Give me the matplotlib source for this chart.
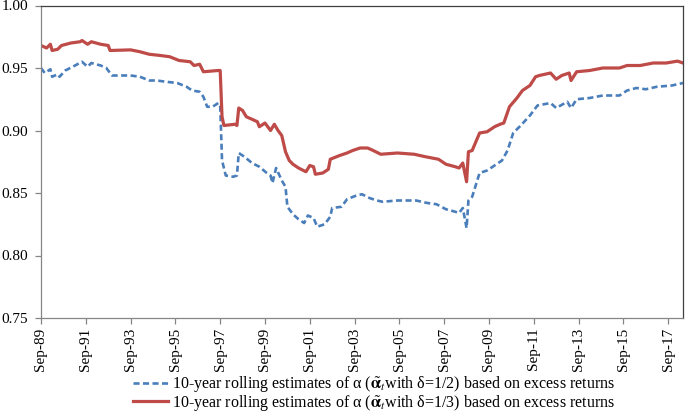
import matplotlib
matplotlib.use("Agg")
import matplotlib.pyplot as plt
import pandas as pd

plt.rcParams['font.family'] = ['Liberation Serif', 'DejaVu Serif']
plt.rcParams['mathtext.fontset'] = 'stix'

red_dates = ["1989-09", "1989-12", "1990-02", "1990-03", "1990-06", "1990-08", "1991-01", "1991-06",
             "1991-07", "1991-10", "1991-12", "1992-05", "1992-09", "1992-10", "1993-09", "1994-02",
             "1994-07", "1995-01", "1995-06", "1995-11", "1996-05", "1996-07", "1996-10", "1996-12",
             "1997-08", "1997-09", "1997-10", "1997-11", "1998-05", "1998-06", "1998-07", "1998-09",
             "1998-11", "1999-02", "1999-05", "1999-06", "1999-09", "1999-11", "1999-12", "2000-02",
             "2000-04", "2000-06", "2000-08", "2000-10", "2000-12", "2001-03", "2001-07", "2001-09",
             "2001-11", "2001-12", "2002-04", "2002-07", "2002-08", "2003-01", "2003-05", "2003-08",
             "2003-12", "2004-04", "2004-07", "2004-11", "2005-08", "2006-05", "2006-11", "2007-06",
             "2007-10", "2008-03", "2008-05", "2008-07", "2008-09", "2008-10", "2008-12", "2009-04",
             "2009-08", "2009-12", "2010-03", "2010-05", "2010-08", "2010-12", "2011-03", "2011-07",
             "2011-10", "2011-12", "2012-06", "2012-09", "2012-12", "2013-04", "2013-05", "2013-08",
             "2014-03", "2014-10", "2015-07", "2015-11", "2016-06", "2017-01", "2017-08", "2018-02",
             "2018-05"]
red_values = [0.968, 0.966, 0.969, 0.964, 0.965, 0.968, 0.970, 0.971,
              0.972, 0.969, 0.971, 0.969, 0.968, 0.964, 0.9645, 0.963,
              0.961, 0.960, 0.959, 0.956, 0.955, 0.952, 0.953, 0.947,
              0.948, 0.948, 0.911, 0.904, 0.905, 0.904, 0.918, 0.916,
              0.911, 0.909, 0.907, 0.903, 0.906, 0.902, 0.900, 0.905,
              0.900, 0.896, 0.883, 0.876, 0.873, 0.870, 0.867, 0.872,
              0.871, 0.865, 0.866, 0.869, 0.877, 0.880, 0.882, 0.884,
              0.886, 0.886, 0.884, 0.881, 0.882, 0.881, 0.879, 0.877,
              0.873, 0.871, 0.870, 0.874, 0.859, 0.883, 0.884, 0.898,
              0.899, 0.903, 0.905, 0.906, 0.919, 0.926, 0.932, 0.936,
              0.943, 0.944, 0.946, 0.941, 0.944, 0.946, 0.940, 0.947,
              0.948, 0.950, 0.950, 0.952, 0.952, 0.954, 0.954, 0.9555,
              0.954]

blue_dates = ["1989-09", "1989-11", "1990-02", "1990-03", "1990-06", "1990-07", "1990-10", "1991-02",
              "1991-07", "1991-10", "1991-12", "1992-05", "1992-08", "1992-11", "1993-03", "1993-09",
              "1994-02", "1994-07", "1994-11", "1995-04", "1995-10", "1996-03", "1996-06", "1996-10",
              "1996-12", "1997-02", "1997-05", "1997-08", "1997-09", "1997-10", "1997-12", "1998-04",
              "1998-06", "1998-07", "1998-10", "1999-02", "1999-06", "1999-10", "1999-12", "2000-01",
              "2000-03", "2000-06", "2000-08", "2000-09", "2000-12", "2001-03", "2001-06", "2001-08",
              "2001-11", "2002-01", "2002-05", "2002-08", "2002-09", "2003-02", "2003-05", "2003-10",
              "2004-01", "2004-05", "2004-09", "2004-12", "2005-08", "2006-01", "2006-06", "2006-12",
              "2007-05", "2007-10", "2008-03", "2008-05", "2008-07", "2008-09", "2008-10", "2008-12",
              "2009-04", "2009-08", "2009-12", "2010-04", "2010-07", "2010-10", "2011-02", "2011-07",
              "2011-11", "2012-06", "2012-09", "2013-03", "2013-05", "2013-08", "2014-03", "2014-10",
              "2015-07", "2015-11", "2016-04", "2016-09", "2017-03", "2017-11", "2018-05"]
blue_values = [0.950, 0.946, 0.949, 0.943, 0.945, 0.943, 0.948, 0.951,
               0.955, 0.951, 0.954, 0.952, 0.950, 0.944, 0.944, 0.944,
               0.943, 0.940, 0.940, 0.939, 0.938, 0.935, 0.932, 0.931,
               0.927, 0.919, 0.919, 0.922, 0.920, 0.876, 0.864, 0.863,
               0.864, 0.882, 0.879, 0.874, 0.871, 0.866, 0.864, 0.858,
               0.870, 0.860, 0.855, 0.839, 0.833, 0.829, 0.826, 0.832,
               0.830, 0.823, 0.825, 0.831, 0.838, 0.839, 0.845, 0.848,
               0.849, 0.846, 0.844, 0.843, 0.844, 0.844, 0.844, 0.842,
               0.841, 0.837, 0.835, 0.834, 0.838, 0.822, 0.844, 0.847,
               0.866, 0.868, 0.872, 0.876, 0.884, 0.898, 0.904, 0.912,
               0.920, 0.922, 0.918, 0.923, 0.918, 0.925, 0.926, 0.928,
               0.928, 0.932, 0.934, 0.933, 0.935, 0.936, 0.938]

y_ticks = [0.75, 0.80, 0.85, 0.90, 0.95, 1.00]
x_tick_years = list(range(1989, 2018, 2))

label_blue = r"10-year rolling estimates of α ($\tilde{\mathbf{\alpha}}_t$with δ=1/2) based on excess returns"
label_red = r"10-year rolling estimates of α ($\tilde{\mathbf{\alpha}}_t$with δ=1/3) based on excess returns"

fig = plt.figure(figsize=(6.85, 4.13), dpi=100)
ax = fig.add_axes([41/685, 1 - 318/413, (683 - 41)/685, (318 - 5.5)/413])

xb = pd.to_datetime(blue_dates)
xr = pd.to_datetime(red_dates)
lb, = ax.plot(xb, blue_values, color='#4A7EBB', lw=1.9, dashes=(2.3, 1.3), solid_capstyle='butt')
lr, = ax.plot(xr, red_values, color='#BE4B48', lw=2.3)

ax.set_xlim(pd.Timestamp("1989-09-01"), pd.Timestamp("2018-05-01"))
ax.set_ylim(0.75, 1.00)
ax.set_yticks(y_ticks)
ax.set_yticklabels([f"{v:.2f}" for v in y_ticks])
xt = [pd.Timestamp(f"{y}-09-01") for y in x_tick_years]
ax.set_xticks(xt)
ax.set_xticklabels([f"Sep-{y % 100:02d}" for y in x_tick_years], rotation=90)

for s in ['left', 'bottom']:
    ax.spines[s].set_color('#868686')
for s in ['top', 'right']:
    ax.spines[s].set_color('#404040')
for s in ax.spines.values():
    s.set_linewidth(0.9)
ax.tick_params(axis='both', colors='#868686', labelcolor='black', labelsize=11, length=4, width=0.9)
ax.tick_params(axis='y', pad=5)
ax.tick_params(axis='x', pad=3)

fig.legend([lb, lr], [label_blue, label_red], loc='center',
           bbox_to_anchor=(374.5/685, 1 - 393.5/413), frameon=False, fontsize=11.5,
           handlelength=2.2, handletextpad=0.25, labelspacing=-0.12, borderpad=0)

fig.savefig("out.png", dpi=100)
